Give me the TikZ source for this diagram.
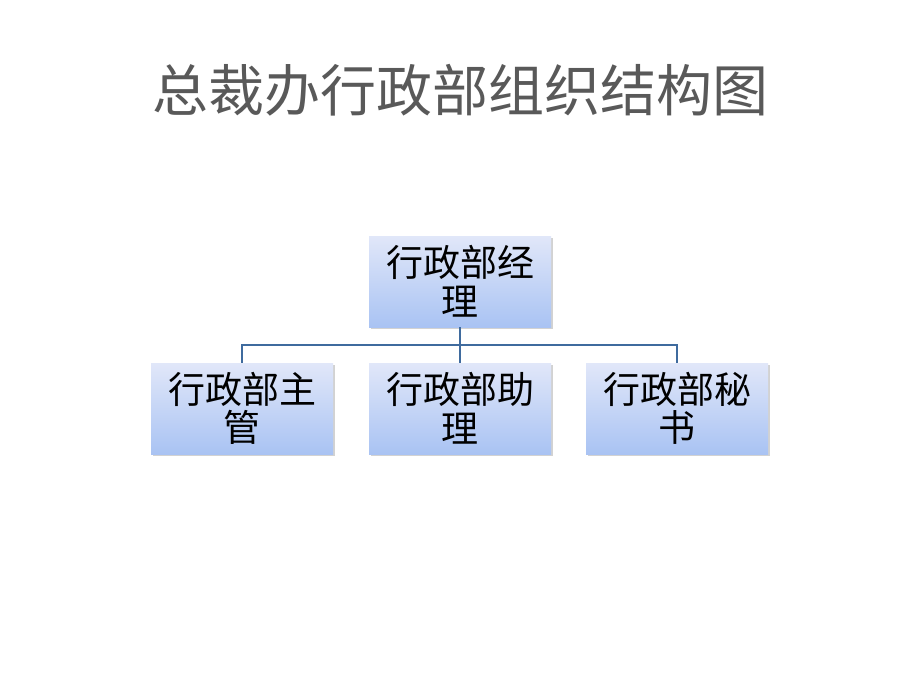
\documentclass[tikz,border=0pt]{standalone}
\usepackage{fontspec}
\setmainfont{Noto Sans CJK SC}
\usetikzlibrary{positioning,shadows}
\definecolor{boxtop}{HTML}{E1E7F9}
\definecolor{boxbottom}{HTML}{A9C3F3}
\definecolor{linkblue}{HTML}{3F6B9E}
\definecolor{titlegray}{HTML}{595959}

\begin{document}
\begin{tikzpicture}[
    x=0.75pt, y=-0.75pt,
    box/.style={rectangle, top color=boxtop, bottom color=boxbottom, draw=none,
        minimum width=136.5pt, minimum height=68.25pt, inner sep=0pt, align=center,
        font=\fontsize{27.75pt}{29pt}\selectfont,
        drop shadow={shadow xshift=1.5pt, shadow yshift=-1.5pt, opacity=0.35, fill=gray}},
    link/.style={draw=linkblue, line width=1.6pt}
]
    \fill[white] (0,0) rectangle (920,690);
    \useasboundingbox (0,0) rectangle (920,690);

    \node[text=titlegray, font=\fontsize{42pt}{50pt}\selectfont] (title) at (460,90) {总裁办行政部组织结构图};

    \node[box] (mgr) at (460,281.5) {行政部经\\理};
    \node[box] (lead) at (242,408.5) {行政部主\\管};
    \node[box] (asst) at (460,408.5) {行政部助\\理};
    \node[box] (sec) at (677,408.5) {行政部秘\\书};

    \coordinate (bus) at (460,345);
    \draw[link] (lead.north) |- (bus) -| (sec.north);
    \draw[link] (mgr.south) -- (asst.north);
\end{tikzpicture}
\end{document}
